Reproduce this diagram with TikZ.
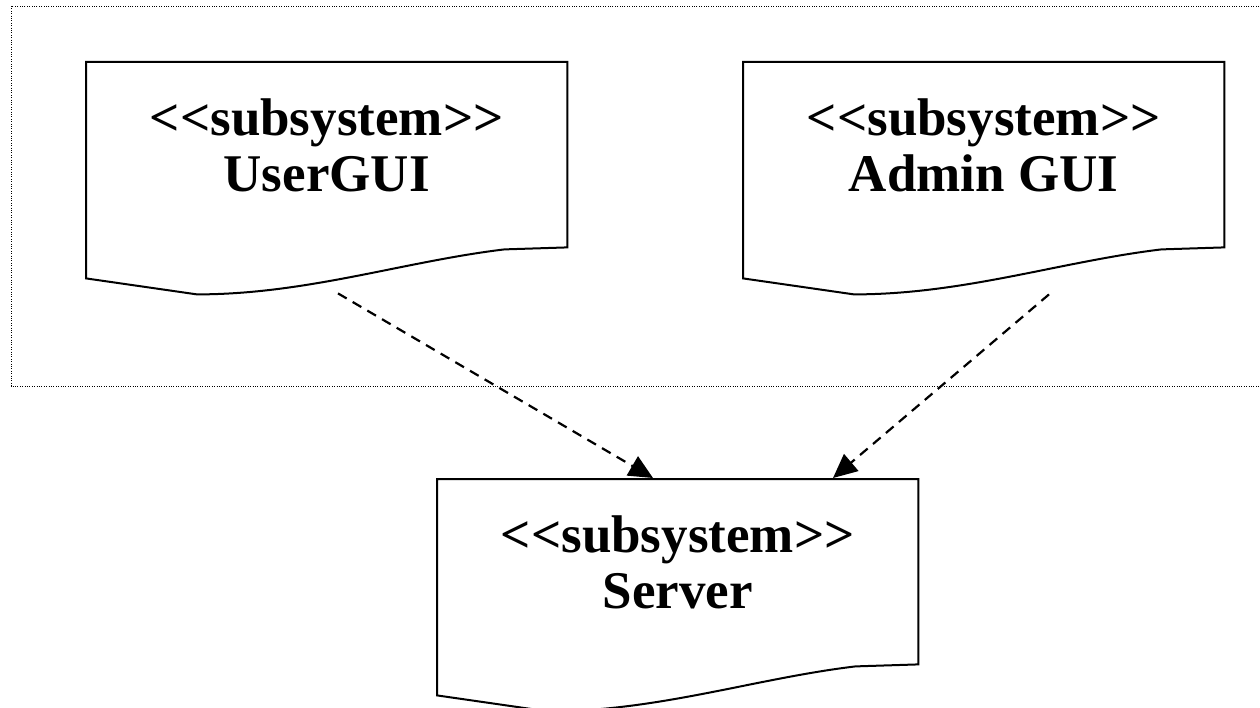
\documentclass[tikz,border=0pt]{standalone}
\usepackage{fontspec}
\setmainfont{Liberation Serif}
\usetikzlibrary{arrows.meta,calc}

\tikzset{
  frame/.style={draw,line width=0.9pt,dash pattern=on 1pt off 1.4pt},
  doc/.style={rectangle,minimum width=481pt,minimum height=216pt,inner sep=0pt,anchor=north west},
  title/.style={font=\bfseries\fontsize{53}{56}\selectfont,align=center,anchor=north,inner sep=0pt},
  outline/.style={line width=2pt,line join=miter},
  dep/.style={line width=2.2pt,dash pattern=on 10pt off 7pt,-{Triangle[length=24pt,width=22pt]}}
}

% document shape with a wavy bottom round a doc node
\newcommand\docshape[1]{%
  \draw[outline] (#1.south west) -- (#1.north west) -- (#1.north east)
    -- ($(#1.south east)+(0,-31)$) -- ($(#1.south east)+(-63,-29)$)
    .. controls ($(#1.south west)+(318,-17)$) and ($(#1.south west)+(221,16)$) .. ($(#1.south west)+(111,16)$)
    -- cycle;}

\begin{document}
\begin{tikzpicture}[x=1pt,y=-1pt]
\useasboundingbox (0,0) rectangle (1260,708);

\draw[frame] (11,6) rectangle (1275,386);

\node[doc] (user) at (86,62) {};
\node[doc] (admin) at (743,62) {};
\node[doc] (server) at (437,479) {};

\docshape{user}
\docshape{admin}
\docshape{server}

\node[title] (usertext) at ($(user.north)+(0,37)$) {<\kern0pt<subsystem>\kern0pt>\\UserGUI};
\node[title] (admintext) at ($(admin.north)+(0,37)$) {<\kern0pt<subsystem>\kern0pt>\\Admin GUI};
\node[title] (servertext) at ($(server.north)+(0,37)$) {<\kern0pt<subsystem>\kern0pt>\\Server};

\coordinate (userout) at ($(user.south west)+(252,15)$);
\coordinate (adminout) at ($(admin.south west)+(306,16)$);

\draw[dep] (userout) -- ($(server.north west)+(216,-1)$);
\draw[dep] (adminout) -- ($(server.north west)+(396,-1)$);
\end{tikzpicture}
\end{document}
